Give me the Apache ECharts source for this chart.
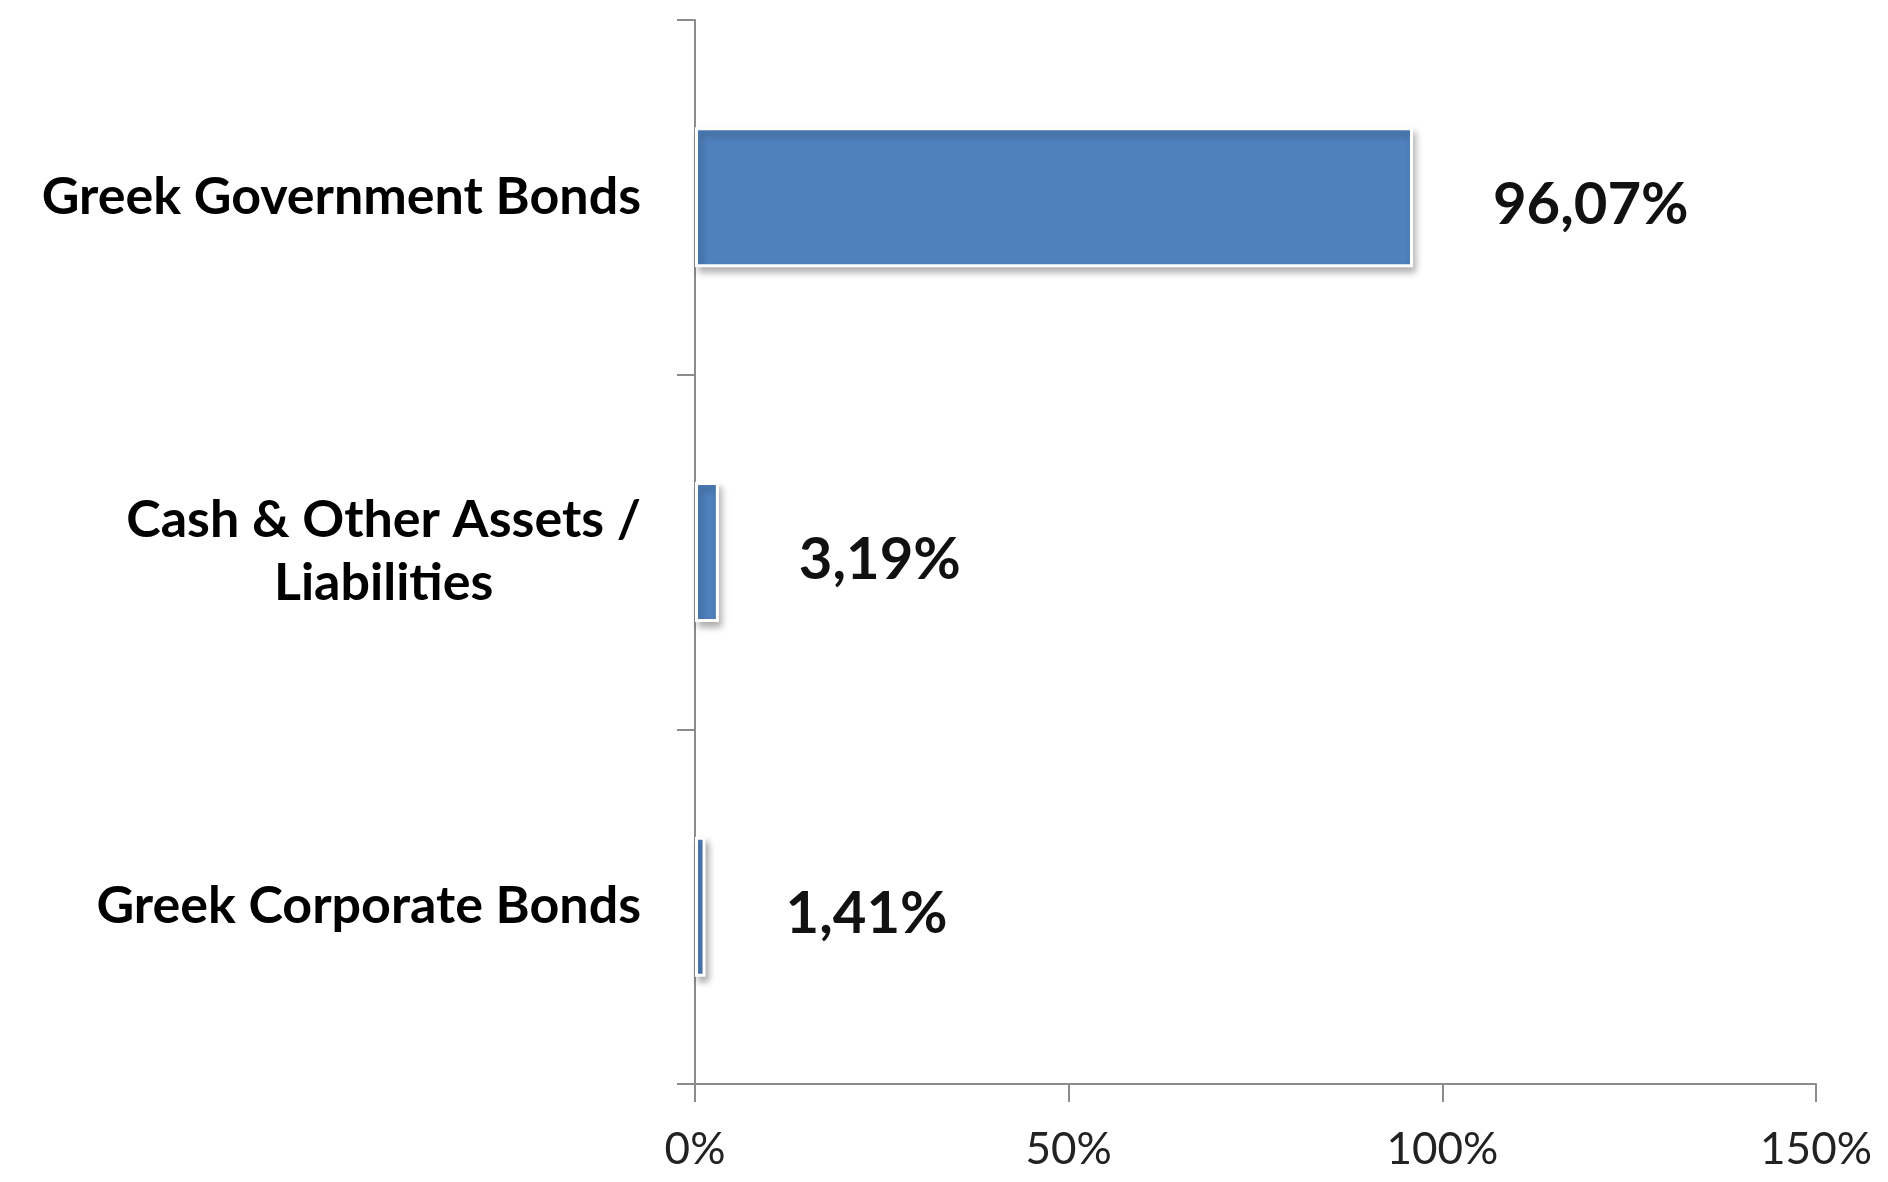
<!DOCTYPE html>
<html>
<head>
<meta charset="utf-8">
<script src="https://cdn.jsdelivr.net/npm/echarts@6/dist/echarts.min.js"></script>
<style>
html,body{margin:0;padding:0;background:#fff;}
#chart{width:1888px;height:1182px;}
</style>
</head>
<body>
<div id="chart"></div>
<script>
const categories = ['Greek Government Bonds', 'Cash & Other Assets /\nLiabilities', 'Greek Corporate Bonds'];
const values = [96.07, 3.19, 1.41];
const xTicks = [0, 50, 100, 150];

const catSize = 52;
const ctx = document.createElement('canvas').getContext('2d');
ctx.font = 'bold ' + catSize + 'px Lato';
const rich = {};
const labelMap = {};
categories.forEach((c, i) => {
  const lines = c.split('\n');
  const widths = lines.map(l => ctx.measureText(l).width);
  const maxW = Math.max.apply(null, widths);
  labelMap[c] = lines.map((l, j) => {
    const key = 'c' + i + '_' + j;
    rich[key] = {
      fontFamily: 'Lato', fontWeight: 'bold', fontSize: catSize, color: '#000',
      lineHeight: 63, padding: [0, (maxW - widths[j]) / 2, 0, 0]
    };
    return '{' + key + '|' + l + '}';
  }).join('\n');
});

const chart = echarts.init(document.getElementById('chart'), null, {renderer: 'canvas'});
chart.setOption({
  animation: false,
  backgroundColor: '#fff',
  grid: {left: 695, right: 72, top: 20, bottom: 98, containLabel: false},
  xAxis: {
    type: 'value', min: xTicks[0], max: xTicks[xTicks.length - 1], interval: 50,
    splitLine: {show: false},
    axisLine: {show: true, lineStyle: {color: '#8c8c8c', width: 2}},
    axisTick: {show: true, length: 18, lineStyle: {color: '#8c8c8c', width: 2}},
    axisLabel: {
      margin: 44, fontFamily: 'Lato', fontSize: 44, color: '#222',
      formatter: v => v + '%'
    }
  },
  yAxis: {
    type: 'category', data: categories, inverse: true,
    axisLine: {show: true, lineStyle: {color: '#8c8c8c', width: 2}},
    axisTick: {show: true, length: 18, lineStyle: {color: '#8c8c8c', width: 2}},
    axisLabel: {
      margin: 54, align: 'right',
      formatter: v => labelMap[v],
      rich: rich
    }
  },
  series: [{
    type: 'bar', data: values, barWidth: 140,
    itemStyle: {
      color: '#4F81BD', borderColor: '#fff', borderWidth: 3,
      shadowBlur: 7, shadowOffsetX: 3, shadowOffsetY: 5, shadowColor: 'rgba(0,0,0,0.3)'
    },
    label: {
      show: true, position: 'right', distance: 80, offset: [0, 8],
      fontFamily: 'Lato', fontWeight: 'bold', fontSize: 58, color: '#111',
      formatter: p => p.value.toFixed(2).replace('.', ',') + '%'
    }
  }]
});
</script>
</body>
</html>
